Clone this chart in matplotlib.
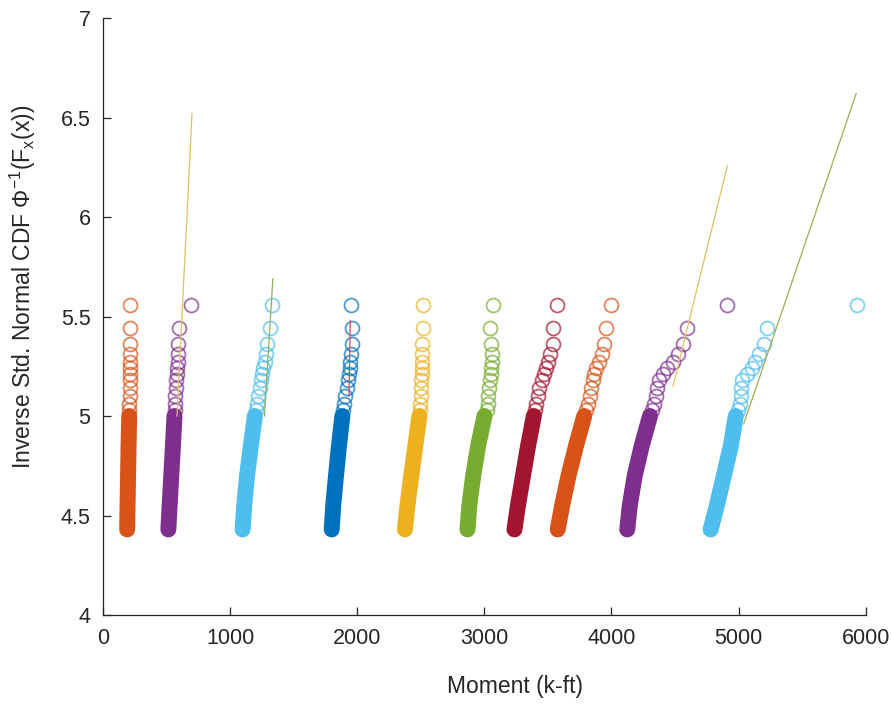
import matplotlib
matplotlib.use("Agg")
import matplotlib.pyplot as plt

plt.rcParams["font.family"] = ["Liberation Sans", "DejaVu Sans"]
plt.rcParams["mathtext.fontset"] = "custom"
plt.rcParams["mathtext.rm"] = "Liberation Sans"
plt.rcParams["mathtext.it"] = "Liberation Sans"

# MATLAB default colours, in the order the clusters appear left to right
colors = ["#D95319", "#7E2F8E", "#4DBEEE", "#0072BD", "#EDB120",
          "#77AC30", "#A2142F", "#D95319", "#7E2F8E", "#4DBEEE"]

# dense part of each cluster (moment at each probability level)
band_y = [4.43, 4.55, 4.70, 4.85, 5.00]
band_x = [
    [190, 193, 197, 201, 206],
    [514, 524, 537, 550, 562],
    [1098, 1111, 1133, 1163, 1194],
    [1799, 1811, 1833, 1856, 1883],
    [2375, 2395, 2425, 2457, 2489],
    [2867, 2882, 2912, 2951, 3001],
    [3237, 3264, 3304, 3344, 3389],
    [3577, 3612, 3662, 3721, 3786],
    [4124, 4144, 4183, 4238, 4303],
    [4780, 4829, 4884, 4939, 4978],
]

# sparse upper tail of each cluster
tail_y = [5.03, 5.06, 5.10, 5.14, 5.18, 5.21, 5.24, 5.27, 5.31, 5.36, 5.44, 5.56]
tail_x = [
    [207, 208, 209, 210, 211, 212, 212, 213, 213, 214, 213, 215],
    [564, 567, 570, 573, 577, 580, 583, 586, 589, 593, 599, 692],
    [1202, 1210, 1220, 1232, 1244, 1254, 1262, 1272, 1282, 1292, 1310, 1332],
    [1890, 1898, 1906, 1916, 1926, 1933, 1940, 1946, 1952, 1958, 1960, 1948],
    [2494, 2497, 2500, 2502, 2504, 2506, 2508, 2509, 2511, 2512, 2514, 2514],
    [3021, 3026, 3031, 3039, 3046, 3051, 3056, 3059, 3061, 3051, 3043, 3066],
    [3398, 3408, 3420, 3433, 3453, 3468, 3483, 3498, 3518, 3543, 3538, 3574],
    [3801, 3816, 3831, 3841, 3854, 3865, 3880, 3905, 3925, 3940, 3960, 3995],
    [4318, 4333, 4348, 4360, 4372, 4402, 4438, 4482, 4526, 4566, 4596, 4910],
    [4993, 5008, 5018, 5023, 5028, 5068, 5108, 5128, 5158, 5197, 5224, 5930],
]

# fitted lines that show above the clusters
fit_x = [[582, 700], [1270, 1336], [1935, 1945], [4484, 4913], [5040, 5925]]
fit_y = [[5.00, 6.52], [5.00, 5.69], [5.10, 5.48], [5.15, 6.26], [4.96, 6.62]]
fit_colors = ["#E0C060", "#8FB060", "#C0506A", "#E0C060", "#A8A850"]

fig = plt.figure(figsize=(8.92, 7.04), dpi=100)
ax = fig.add_axes([0.1155, 0.1264, 0.855, 0.848])

for bx, tx, c in zip(band_x, tail_x, colors):
    ax.plot(bx, band_y, color=c, lw=11.5, solid_capstyle="round", zorder=2)
    ax.plot(tx, tail_y, "o", ms=10, mfc="none", mec=c, mew=1.3, alpha=0.7, zorder=3)

for fx, fy, c in zip(fit_x, fit_y, fit_colors):
    ax.plot(fx, fy, color=c, lw=0.9, zorder=4)

ax.set_xlim(0, 6000)
ax.set_ylim(4, 7)
ax.set_xticks(range(0, 6001, 1000))
ax.set_yticks([4, 4.5, 5, 5.5, 6, 6.5, 7])
ax.set_yticklabels(["4", "4.5", "5", "5.5", "6", "6.5", "7"])

for s in ["top", "right"]:
    ax.spines[s].set_visible(False)
for s in ["left", "bottom"]:
    ax.spines[s].set_color("#262626")
    ax.spines[s].set_linewidth(0.9)

ax.tick_params(direction="in", length=6, width=0.9, colors="#262626",
               labelsize=15.5, pad=9)

ax.set_xlabel("Moment (k-ft)", fontsize=16.5, color="#262626")
ax.xaxis.set_label_coords(0.54, -0.1)
ax.set_ylabel(r"Inverse Std. Normal CDF $\Phi^{-1}(F_x(x))$", fontsize=16.5, color="#262626")
ax.yaxis.set_label_coords(-0.085, 0.55)

fig.savefig("out.png", dpi=100)
